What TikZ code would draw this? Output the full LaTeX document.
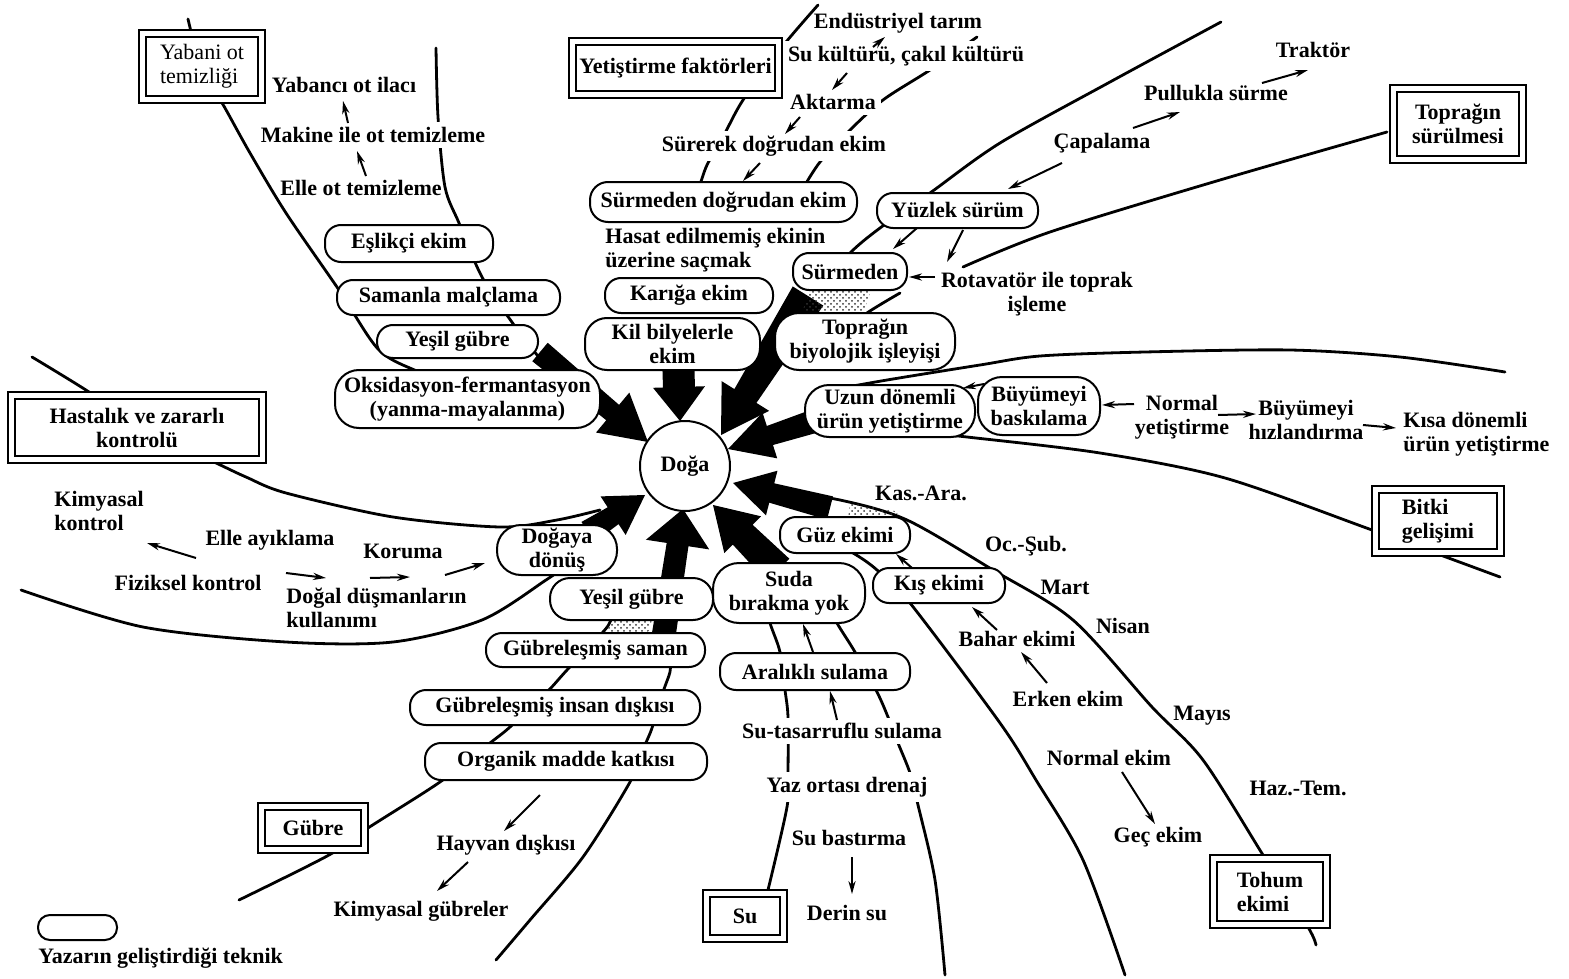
\documentclass[tikz,border=0pt]{standalone}
\usepackage{fontspec}
\setmainfont{Liberation Serif}
\usetikzlibrary{calc,arrows.meta,patterns}

\newcommand\mylbf{\fontsize{11}{12}\selectfont\bfseries}
\newcommand\mylrg{\fontsize{11}{12}\selectfont}

% broad black arrow: tail, tip, tail half-width, shaft half-width, head half-width, head length
\newcommand\bigarr[6]{%
  \path ($(#2)!#6!(#1)$) coordinate (ba-q);
  \fill ($(#1)!#3!90:(#2)$) -- ($(ba-q)!#4!90:(#2)$) -- ($(ba-q)!#5!90:(#2)$) -- (#2)
     -- ($(ba-q)!#5!-90:(#2)$) -- ($(ba-q)!#4!-90:(#2)$) -- ($(#1)!#3!-90:(#2)$) -- cycle;}

% small arrow between two named end points
\newcommand\sarrow[3]{\coordinate (#1-s) at #2; \coordinate (#1-e) at #3; \draw[sarr] (#1-s) -- (#1-e);}

\tikzset{
  sector/.style={line width=1.4pt, line cap=round},
  sarr/.style={line width=1pt, -{Stealth[length=6.5pt,width=3.6pt]}},
  rnode/.style={draw, line width=1pt, fill=white, rounded corners=8pt, inner sep=0pt, align=center, font=\mylbf},
  dbox/.style={draw, line width=1pt, double, double distance=2.5pt, fill=white, inner sep=0pt, align=center, font=\mylbf},
  lab/.style={inner sep=1pt, align=center, font=\mylbf},
  cut/.style={fill=white, inner sep=2.5pt},
  stip/.style={pattern=crosshatch dots, pattern color=black!80}
}

\begin{document}
\begin{tikzpicture}[x=0.5pt,y=-0.5pt]
\useasboundingbox (0,0) rectangle (1569,979);

% ---------- sector boundary lines ----------
% weeding
\draw[sector] plot[smooth] coordinates {(188,19) (201,66) (225,108) (250,153) (286,213) (339,290) (379,350) (421,373) (470,395)};
\draw[sector] plot[smooth] coordinates {(436,48) (438,117) (445,187) (459,223) (482,277) (514,325) (545,365)};
% cultivation factors
\draw[sector] plot[smooth] coordinates {(818,5) (782,47) (743,100) (723,137) (707,165) (700,185)};
\draw[sector] plot[smooth] coordinates {(977,37) (930,70) (883,100) (847,133) (820,162) (805,185)};
% tillage
\draw[sector] plot[smooth] coordinates {(1221,22) (1110,82) (1000,143) (930,193) (880,228) (850,253) (818,290)};
\draw[sector] plot[smooth] coordinates {(1387,132) (1220,180) (1050,232) (963,267)};
\draw[sector] plot[smooth] coordinates {(900,293) (867,313) (840,335)};
% plant growth
\draw[sector] plot[smooth] coordinates {(1505,372) (1400,357) (1290,350) (1145,352) (1040,356) (980,365) (887,380) (820,392)};
\draw[sector] plot[smooth] coordinates {(1500,577) (1372,530) (1225,478) (1100,453) (967,437) (900,430)};
% sowing
\draw[sector] plot[smooth] coordinates {(765,489) (840,500) (907,520) (993,570) (1073,620) (1152,707) (1203,760) (1263,855) (1308,927) (1316,945)};
\draw[sector] plot[smooth] coordinates {(810,530) (853,553) (877,570) (910,603) (1000,723) (1036,780) (1083,860) (1125,975)};
% water
\draw[sector] plot[smooth] coordinates {(765,600) (770,623) (780,652) (785,690) (788,717) (788,772) (787,807) (768,890)};
\draw[sector] plot[smooth] coordinates {(830,605) (837,623) (855,652) (877,692) (888,717) (898,743) (910,773) (918,805) (935,880) (945,975)};
% fertiliser
\draw[sector] plot[smooth] coordinates {(615,610) (610,622) (603,632) (567,670) (547,692) (510,727) (490,743) (440,782) (368,828) (329,855) (239,900)};
\draw[sector] plot[smooth] coordinates {(670,660) (670,672) (663,692) (652,728) (645,745) (630,782) (583,857) (530,920) (496,960)};
% pest control
\draw[sector] plot[smooth] coordinates {(32,357) (89,392) (137,426) (214,462) (246,477) (286,493) (393,517) (500,527) (557,520) (600,510)};
\draw[sector] plot[smooth] coordinates {(21,590) (143,627) (286,642) (393,642) (482,620) (546,580) (560,570)};

% ---------- broad arrows into the centre ----------
\coordinate (a1t) at (540,352); \coordinate (a1p) at (648,442);
\coordinate (a2t) at (678,355); \coordinate (a2p) at (680,421);
\coordinate (a3t) at (808,296); \coordinate (a3p) at (721,435);
\coordinate (a4t) at (818,420); \coordinate (a4p) at (728,449);
\coordinate (a5t) at (830,508); \coordinate (a5p) at (733,483);
\coordinate (a6t) at (778,570); \coordinate (a6p) at (713,505);
\coordinate (a7t) at (663,640); \coordinate (a7p) at (683,509);
\coordinate (a8t) at (588,532); \coordinate (a8p) at (645,495);
\bigarr{a1t}{a1p}{6pt}{5pt}{13pt}{23pt}
\bigarr{a2t}{a2p}{8pt}{8pt}{13pt}{17pt}
\bigarr{a3t}{a3p}{9pt}{6.5pt}{14pt}{23pt}
\bigarr{a4t}{a4p}{6pt}{5pt}{12pt}{22pt}
\bigarr{a5t}{a5p}{6pt}{5pt}{11.5pt}{20pt}
\bigarr{a6t}{a6p}{8pt}{7pt}{13pt}{21pt}
\bigarr{a7t}{a7p}{6pt}{5.5pt}{16pt}{18pt}
\bigarr{a8t}{a8p}{6pt}{5pt}{11.5pt}{19pt}

% stippled patches
\fill[stip] (812,287) -- (872,287) -- (862,317) -- (800,317) -- cycle;
\fill[stip] (850,503) -- (900,512) -- (885,520) -- (848,520) -- cycle;
\fill[stip] (612,619) -- (652,619) -- (648,634) -- (606,634) -- cycle;

% ---------- rounded technique nodes ----------
\node[rnode, minimum width=84pt, minimum height=18.5pt] (esl) at (409,243.5) {Eşlikçi ekim};
\node[rnode, minimum width=111.5pt, minimum height=17.5pt] (sam) at (448.5,297.5) {Samanla malçlama};
\node[rnode, minimum width=80.5pt, minimum height=16.5pt] (yg1) at (457.5,341.5) {Yeşil gübre};
\node[rnode, rounded corners=12pt, minimum width=132.5pt, minimum height=29pt] (oks) at (467.5,399) {Oksidasyon-fermantasyon\\(yanma-mayalanma)};
\node[rnode, minimum width=133.5pt, minimum height=20pt, rounded corners=9pt] (smd) at (723.5,202) {Sürmeden doğrudan ekim};
\node[rnode, minimum width=84pt, minimum height=17.5pt] (kar) at (689,295.5) {Karığa ekim};
\node[rnode, rounded corners=11pt, minimum width=87.5pt, minimum height=26pt] (kil) at (672.5,344) {Kil bilyelerle\\ekim};
\node[rnode, minimum width=80.5pt, minimum height=17.5pt] (yuz) at (957.5,210.5) {Yüzlek sürüm};
\node[rnode, minimum width=57pt, minimum height=18.5pt] (srm) at (850,271.5) {Sürmeden};
\node[rnode, rounded corners=12pt, minimum width=90pt, minimum height=28.5pt] (tbi) at (865,341.5) {Toprağın\\biyolojik işleyişi};
\node[rnode, rounded corners=12pt, minimum width=85pt, minimum height=26pt] (uzn) at (890,411) {Uzun dönemli\\ürün yetiştirme};
\node[rnode, rounded corners=12pt, minimum width=61pt, minimum height=29pt] (bba) at (1039,406) {Büyümeyi\\baskılama};
\node[rnode, rounded corners=12pt, minimum width=60pt, minimum height=25pt] (dgd) at (557,550) {Doğaya\\dönüş};
\node[rnode, rounded corners=10pt, minimum width=81.5pt, minimum height=21pt] (yg2) at (631.5,599) {Yeşil gübre};
\node[rnode, minimum width=109.5pt, minimum height=17pt] (gsm) at (595.5,650) {Gübreleşmiş saman};
\node[rnode, minimum width=145pt, minimum height=17.5pt] (gid) at (555,707.5) {Gübreleşmiş insan dışkısı};
\node[rnode, minimum width=141pt, minimum height=18.5pt] (omk) at (566,761.5) {Organik madde katkısı};
\node[rnode, minimum width=65pt, minimum height=18pt] (guz) at (845,535) {Güz ekimi};
\node[rnode, rounded corners=13pt, minimum width=76pt, minimum height=30pt] (sud) at (789,593) {Suda\\bırakma yok};
\node[rnode, minimum width=66pt, minimum height=17.5pt] (kis) at (939,585.5) {Kış ekimi};
\node[rnode, minimum width=95pt, minimum height=18.5pt] (ara) at (815,671.5) {Aralıklı sulama};

% ---------- double-framed sector titles ----------
\node[dbox, font=\mylrg, align=left, minimum width=59.5pt, minimum height=33pt] (yab) at (202,66.5) {Yabani ot\\temizliği};
\node[dbox, minimum width=103pt, minimum height=26.5pt] (yet) at (675.5,68) {Yetiştirme faktörleri};
\node[dbox, minimum width=64.5pt, minimum height=35.5pt] (tsr) at (1458,124) {Toprağın\\sürülmesi};
\node[dbox, minimum width=125.5pt, minimum height=32pt] (has) at (137,427.5) {Hastalık ve zararlı\\kontrolü};
\node[dbox, align=left, minimum width=62.5pt, minimum height=31.5pt] (bit) at (1438,521) {Bitki\\gelişimi};
\node[dbox, minimum width=51.5pt, minimum height=21.5pt] (gub) at (313,828) {Gübre};
\node[dbox, minimum width=38.5pt, minimum height=22.5pt] (su) at (745,916) {Su};
\node[dbox, align=left, minimum width=56.5pt, minimum height=33pt] (toh) at (1270,891.5) {Tohum\\ekimi};

% ---------- plain labels ----------
\node[lab] (yoi) at (344,85) {Yabancı ot ilacı};
\node[lab, cut] (mak) at (373,135) {Makine ile ot temizleme};
\node[lab] (elo) at (361,188) {Elle ot temizleme};
\node[lab, align=left, anchor=west] (hsd) at (603,250) {Hasat edilmemiş ekinin\\üzerine saçmak};
\node[lab] (end) at (898,23) {Endüstriyel tarım};
\node[lab, cut] (suk) at (906,56) {Su kültürü, çakıl kültürü};
\node[lab, cut] (akt) at (833,102) {Aktarma};
\node[lab, cut] (sde) at (774,146) {Sürerek doğrudan ekim};
\node[lab] (trk) at (1313,50) {Traktör};
\node[lab] (pul) at (1216,93) {Pullukla sürme};
\node[lab] (cap) at (1102,143) {Çapalama};
\node[lab] (rot) at (1037,294) {Rotavatör ile toprak\\işleme};
\node[lab] (nyt) at (1182,417) {Normal\\yetiştirme};
\node[lab] (bhz) at (1306,420) {Büyümeyi\\hızlandırma};
\node[lab, align=left, anchor=west] (kdu) at (1401,434) {Kısa dönemli\\ürün yetiştirme};
\node[lab, align=left, anchor=west] (kmk) at (52,511) {Kimyasal\\kontrol};
\node[lab] (eay) at (270,540) {Elle ayıklama};
\node[lab] (kor) at (403,551) {Koruma};
\node[lab] (fiz) at (188,583) {Fiziksel kontrol};
\node[lab, align=left, anchor=west] (ddk) at (284,608) {Doğal düşmanların\\kullanımı};
\node[lab] (hay) at (506,845) {Hayvan dışkısı};
\node[lab] (kgb) at (421,911) {Kimyasal gübreler};
\node[lab] (kas) at (921,493) {Kas.-Ara.};
\node[lab] (ocs) at (1026,546) {Oc.-Şub.};
\node[lab] (mar) at (1065,587) {Mart};
\node[lab] (nis) at (1123,626) {Nisan};
\node[lab] (bah) at (1017,639) {Bahar ekimi};
\node[lab] (erk) at (1068,699) {Erken ekim};
\node[lab] (may) at (1202,716) {Mayıs};
\node[lab] (nek) at (1109,758) {Normal ekim};
\node[lab] (haz) at (1298,788) {Haz.-Tem.};
\node[lab] (gec) at (1158,837) {Geç ekim};
\node[lab, cut] (sts) at (842,731) {Su-tasarruflu sulama};
\node[lab, cut] (yod) at (847,787) {Yaz ortası drenaj};
\node[lab] (sbs) at (849,838) {Su bastırma};
\node[lab] (drs) at (847,913) {Derin su};

% legend
\node[rnode, rounded corners=6pt, minimum width=39.5pt, minimum height=12.5pt] (leg) at (77.5,927.5) {};
\node[lab, anchor=west] (legt) at (36,958) {Yazarın geliştirdiği teknik};

% ---------- small arrows ----------
\sarrow{w1}{(366,176)}{(357,151)}
\sarrow{w2}{(348,123)}{(343,101)}
\sarrow{f1}{(873,47)}{(885,37)}
\sarrow{f2}{(847,73)}{(832,90)}
\sarrow{f3}{(800,117)}{(785,134)}
\sarrow{f4}{(760,163)}{(743,181)}
\sarrow{t1}{(1062,163)}{(1008,189)}
\sarrow{t2}{(1133,128)}{(1180,112)}
\sarrow{t3}{(1262,83)}{(1308,70)}
\sarrow{t4}{(917,228)}{(893,249)}
\sarrow{t5}{(963,230)}{(947,262)}
\sarrow{t6}{(935,277)}{(909,277)}
\sarrow{g1}{(984,384)}{(963,388)}
\sarrow{g2}{(1134,404)}{(1102,405)}
\sarrow{g3}{(1218,415)}{(1256,414)}
\sarrow{g4}{(1363,425)}{(1396,428)}
\sarrow{e1}{(912,568)}{(896,554)}
\sarrow{e2}{(997,630)}{(972,607)}
\sarrow{e3}{(1047,683)}{(1021,652)}
\sarrow{e4}{(1122,772)}{(1155,824)}
\sarrow{s1}{(813,652)}{(803,624)}
\sarrow{s2}{(837,720)}{(830,691)}
\sarrow{s3}{(852,857)}{(852,894)}
\sarrow{m1}{(540,795)}{(504,831)}
\sarrow{m2}{(468,862)}{(437,891)}
\sarrow{h1}{(196,558)}{(147,543)}
\sarrow{h2}{(286,573)}{(326,578)}
\sarrow{h3}{(370,578)}{(410,577)}
\sarrow{h4}{(445,575)}{(485,563)}

% ---------- centre ----------
\node[circle, draw, line width=1pt, fill=white, minimum size=45pt, inner sep=0pt, font=\mylbf] (doga) at (685,466) {Doğa};
\end{tikzpicture}
\end{document}
